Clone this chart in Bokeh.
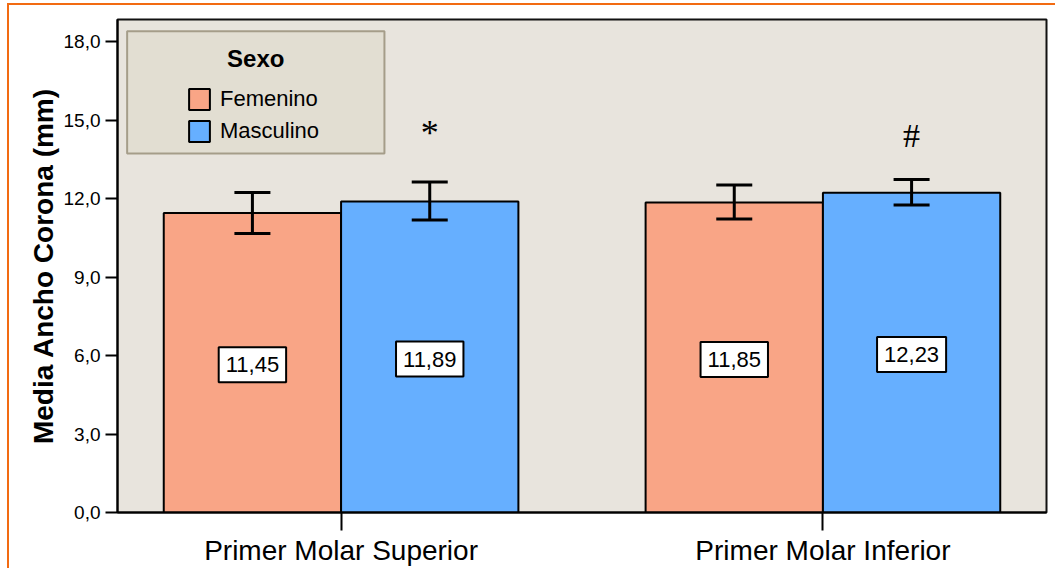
from bokeh.plotting import figure
from bokeh.models import (Range1d, FixedTicker, Whisker, ColumnDataSource, BoxAnnotation,
                          Label, Legend, LegendItem, TeeHead)
from bokeh.core.properties import value
from bokeh.embed import file_html
from bokeh.resources import INLINE

# ---------------- data ----------------
CATEGORIES = ["Primer Molar Superior", "Primer Molar Inferior"]
SEXES = ["Femenino", "Masculino"]
MEAN_F = [11.45, 11.85]
MEAN_M = [11.89, 12.23]
LOW_F = [10.67, 11.22]
HIGH_F = [12.24, 12.52]
LOW_M = [11.18, 11.76]
HIGH_M = [12.64, 12.73]
LABELS_F = ["11,45", "11,85"]
LABELS_M = ["11,89", "12,23"]
SIG_MARKS = ["*", "#"]
SIG_Y = [14.5, 14.4]
SIG_SIZE = ["36px", "34px"]
Y_TICKS = [0, 3, 6, 9, 12, 15, 18]
Y_TICK_LABELS = ["0,0", "3,0", "6,0", "9,0", "12,0", "15,0", "18,0"]

# ---------------- style ----------------
FONT = "Liberation Sans"
COL_F = "#F9A586"
COL_M = "#66AFFF"
BG = "#E8E4DD"
BAR_W = 0.368

centers = [i + 0.5 for i in range(len(CATEGORIES))]
x_f = [c - BAR_W / 2 for c in centers]
x_m = [c + BAR_W / 2 for c in centers]

src_f = ColumnDataSource(dict(x=x_f, top=MEAN_F, lo=LOW_F, hi=HIGH_F, lab=LABELS_F,
                              half=[m / 2 for m in MEAN_F]))
src_m = ColumnDataSource(dict(x=x_m, top=MEAN_M, lo=LOW_M, hi=HIGH_M, lab=LABELS_M,
                              half=[m / 2 for m in MEAN_M], mark=SIG_MARKS, my=SIG_Y,
                              msize=SIG_SIZE))

p = figure(width=1048, height=565, output_backend="svg", toolbar_location=None,
           x_range=Range1d(0.036, 1.964), y_range=Range1d(0, 18.85),
           min_border_left=108, min_border_right=11, min_border_top=14, min_border_bottom=58,
           background_fill_color=BG, border_fill_color="white",
           styles={"position": "absolute", "top": "3px", "left": "7px",
                   "border-top": "2px solid #F26B12", "border-left": "2px solid #F26B12"})
p.outline_line_color = "#111111"
p.outline_line_width = 2
p.xgrid.visible = False
p.ygrid.visible = False

rf = p.vbar(x="x", top="top", bottom=0, width=BAR_W, source=src_f,
            fill_color=COL_F, line_color="black", line_width=2)
rm = p.vbar(x="x", top="top", bottom=0, width=BAR_W, source=src_m,
            fill_color=COL_M, line_color="black", line_width=2)

for src in (src_f, src_m):
    w = Whisker(base="x", lower="lo", upper="hi", source=src, line_color="black", line_width=3,
                upper_head=TeeHead(size=36, line_width=3, line_color="black"),
                lower_head=TeeHead(size=36, line_width=3, line_color="black"),
                level="annotation")
    p.add_layout(w)
    p.text(x="x", y="half", text="lab", source=src, text_align="center", text_baseline="middle",
           y_offset=2, text_font=value(FONT), text_font_size="22px", text_color="black",
           background_fill_color="white", border_line_color="black", border_line_width=2,
           padding=(7, 7, 10, 10))

p.text(x="x", y="my", text="mark", source=src_m, text_align="center", text_baseline="alphabetic",
       text_font=value("Liberation Serif"), text_font_size="msize", text_color="black")

# axes
p.yaxis.ticker = FixedTicker(ticks=Y_TICKS)
p.yaxis.major_label_overrides = {t: l for t, l in zip(Y_TICKS, Y_TICK_LABELS)}
p.yaxis.axis_label = "Media Ancho Corona (mm)"
p.yaxis.axis_label_text_font = FONT
p.yaxis.axis_label_text_font_style = "bold"
p.yaxis.axis_label_text_font_size = "28px"
p.yaxis.axis_label_standoff = 2
p.yaxis.major_label_text_font = FONT
p.yaxis.major_label_text_font_size = "19px"
p.yaxis.major_label_standoff = 5
p.yaxis.major_tick_out = 12
p.yaxis.major_tick_in = 0
p.yaxis.minor_tick_line_color = None

p.xaxis.ticker = FixedTicker(ticks=centers)
p.xaxis.major_label_overrides = {c: n for c, n in zip(centers, CATEGORIES)}
p.xaxis.major_label_text_font = FONT
p.xaxis.major_label_text_font_size = "28px"
p.xaxis.major_label_standoff = 4
p.xaxis.major_tick_out = 18
p.xaxis.major_tick_in = 0
p.xaxis.minor_tick_line_color = None

for ax in (p.xaxis, p.yaxis):
    ax.axis_line_width = 2
    ax.axis_line_color = "black"
    ax.major_tick_line_width = 2
    ax.major_tick_line_color = "black"
    ax.major_label_text_color = "black"
    ax.axis_label_text_color = "black"

# legend box
LEG = dict(left=0.056, right=0.590, bottom=13.73, top=18.40)
box = BoxAnnotation(left=LEG["left"], right=LEG["right"], bottom=LEG["bottom"], top=LEG["top"],
                    fill_color="#E2DED2", fill_alpha=1, line_color="#A59D89", line_width=2,
                    line_alpha=1)
p.add_layout(box)
p.add_layout(Label(x=(LEG["left"] + LEG["right"]) / 2, y=17.35, text="Sexo",
                   text_align="center", text_baseline="middle", text_font=FONT,
                   text_font_style="bold", text_font_size="24px", text_color="black"))

legend = Legend(items=[LegendItem(label=SEXES[0], renderers=[rf]),
                       LegendItem(label=SEXES[1], renderers=[rm])],
                location=(69, 368), padding=0, margin=0, spacing=6,
                glyph_width=26, glyph_height=26, label_height=26, label_standoff=8,
                label_text_font=FONT, label_text_font_size="22px", label_text_color="black",
                background_fill_alpha=0, border_line_alpha=0)
p.add_layout(legend)

open("out.html", "w").write(file_html(p, INLINE))
